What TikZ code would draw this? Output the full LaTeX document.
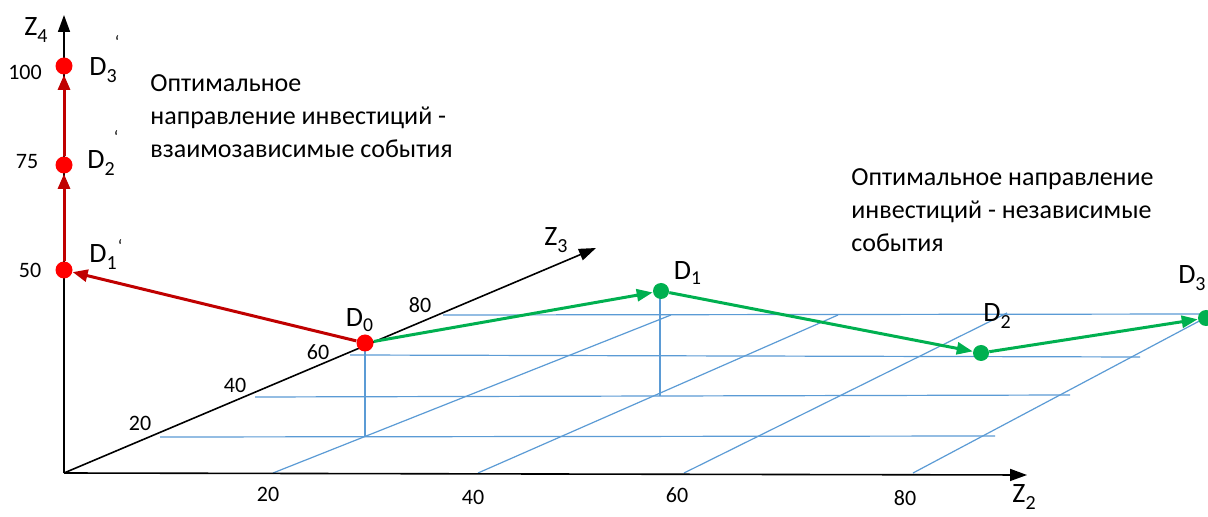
\documentclass[tikz,border=0pt]{standalone}
\usepackage{fontspec}
\setmainfont{Carlito}
\usetikzlibrary{arrows.meta}
\definecolor{gridblue}{HTML}{5B9BD5}
\definecolor{pathred}{HTML}{C00000}
\definecolor{dotred}{HTML}{FF0000}
\definecolor{pathgreen}{HTML}{00B050}
\newcommand{\lowsub}[1]{\raisebox{-0.55ex}{\fontsize{10}{10}\selectfont #1}}

\begin{document}
\begin{tikzpicture}[x=0.5pt, y=-0.5pt, font=\fontsize{13}{16.5}\selectfont,
  axis/.style={black, line width=0.8pt, -{Triangle[length=8.5pt, width=6pt]}},
  gridline/.style={gridblue, line width=0.6pt},
  reddot/.style={circle, fill=dotred, inner sep=0pt, minimum size=8.5pt},
  greendot/.style={circle, fill=pathgreen, inner sep=0pt, minimum size=8pt},
  redpath/.style={pathred, line width=1.5pt, -{Triangle[length=7.5pt, width=6pt]}},
  greenpath/.style={pathgreen, line width=1.5pt, -{Triangle[length=8pt, width=6pt]}},
  ticklab/.style={font=\fontsize{11}{13}\selectfont},
  dlabel/.style={font=\fontsize{14}{16}\selectfont}]
  \clip (0,0) rectangle (1208,517);
  \fill[white] (0,0) rectangle (1208,517);

  \foreach \xa/\ya/\xb/\yb in {160/437/995/436, 255/397/1070/395,
                               350/355/1140/357, 443/315/1208/314,
                               273/473/671/315, 478/473/838/315,
                               684/473/1007/313, 913/473/1205/318,
                               365/343/365/437, 660/291/660/396}{%
    \draw[gridline] (\xa,\ya) -- (\xb,\yb);}

  \coordinate (O) at (64,473);
  \coordinate (z4end) at (64,15);
  \coordinate (z3end) at (596,248);
  \coordinate (z2end) at (1027,475);
  \draw[axis] (O) -- (z4end);
  \draw[axis] (O) -- (z3end);
  \draw[axis] (O) -- (z2end);

  \node at (36,30) {\fontsize{14}{16}\selectfont Z\lowsub{4}};
  \node at (556,240) {\fontsize{14}{16}\selectfont Z\lowsub{3}};
  \node at (1024,497) {\fontsize{14}{16}\selectfont Z\lowsub{2}};

  \foreach \lab/\px/\py in {100/25/72, 75/27/162, 50/30/270,
                            20/140/423, 40/235/385, 60/318/352, 80/420/305,
                            20/268/494, 40/473/497, 60/677/495, 80/905/498}{%
    \node[ticklab] at (\px,\py) {\lab};}

  \node[reddot] (D0) at (365,343) {};
  \node[reddot] (D1r) at (64,270) {};
  \node[reddot] (D2r) at (64,165) {};
  \node[reddot] (D3r) at (64,66) {};
  \node[greendot] (D1) at (661,291) {};
  \node[greendot] (D2) at (981,353) {};
  \node[greendot] (D3) at (1206,318) {};

  \draw[redpath] (D0) -- (D1r);
  \draw[redpath] (D1r) -- (D2r);
  \draw[redpath] (D2r) -- (D3r);
  \draw[greenpath] (D0) -- (D1);
  \draw[greenpath] (D1) -- (D2);
  \draw[greenpath] (D2) -- (D3);

  \node[dlabel] at (360,320) {D\textsubscript{0}};
  \node[dlabel] at (688,273) {D\textsubscript{1}};
  \node[dlabel] at (997,316) {D\lowsub{2}};
  \node[dlabel, anchor=east, inner sep=1pt] at (1208,278) {D\lowsub{3}};
  \node[dlabel] at (103,70) {D\lowsub{3}};
  \node[dlabel] at (101,163) {D\lowsub{2}};
  \node[dlabel] at (103,257) {D\lowsub{1}};
  \foreach \px/\py in {117/42, 116/137, 120/246}{%
    \node[font=\fontsize{9}{9}\selectfont] at (\px,\py) {\char96};}

  \node[anchor=north west, inner sep=0pt, align=left] at (150,74)
    {Оптимальное\\направление инвестиций -\\взаимозависимые события};
  \node[anchor=north west, inner sep=0pt, align=left] at (851,168)
    {Оптимальное направление\\инвестиций - независимые\\события};
\end{tikzpicture}
\end{document}
